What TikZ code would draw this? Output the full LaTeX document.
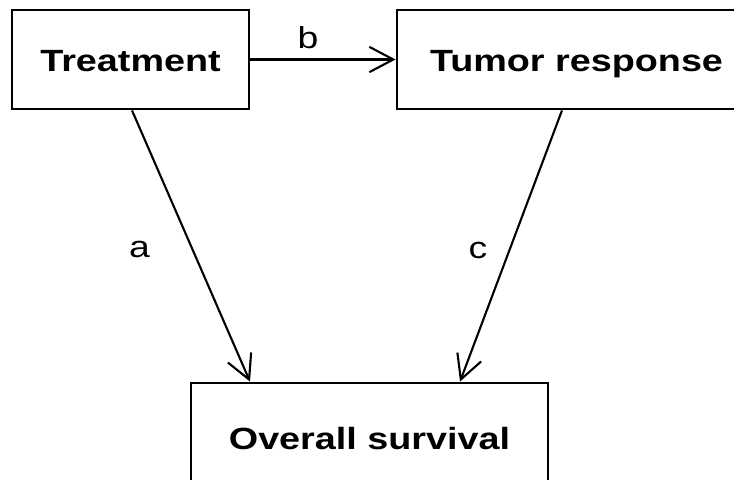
\documentclass[tikz,border=0pt]{standalone}
\usepackage{fontspec}
\newfontfamily\diagfont[FakeStretch=1.23]{Liberation Sans}
\usetikzlibrary{arrows.meta,calc}

\begin{document}
\begin{tikzpicture}[x=0.03cm,y=-0.03cm,
  box/.style={draw,line width=2.4pt,inner sep=0,text height=0.72cm,text depth=0pt,font=\diagfont\fontsize{26.2}{30}\selectfont\bfseries},
  lbl/.style={inner sep=0,font=\diagfont\fontsize{25.9}{30}\selectfont},
  arr/.style={line width=1.8pt,-{Straight Barb[length=0.72cm,width=0.76cm]}}]
\useasboundingbox (0,0) rectangle (734,479);
\node [box,minimum width=7.11cm,minimum height=2.97cm] (treat) at (130.5,59.5) {Treatment};
\node [box,minimum width=10.77cm,minimum height=2.97cm] (tumor) at (576.5,59.5) {Tumor response};
\node [box,minimum width=10.71cm,minimum height=3.24cm] (surv) at (369.5,437) {Overall survival};
\draw [arr] (treat.east) -- (tumor.west);
\draw [arr] ($(treat.south)+(1.5,0)$) -- ($(surv.north)+(-119.5,0)$);
\draw [arr] ($(tumor.south)+(-14.5,0)$) -- ($(surv.north)+(90.5,0)$);
\node [lbl] (la) at (139.5,249) {a};
\node [lbl] (lb) at (308,37.5) {b};
\node [lbl] (lc) at (478,250) {c};
\end{tikzpicture}
\end{document}
